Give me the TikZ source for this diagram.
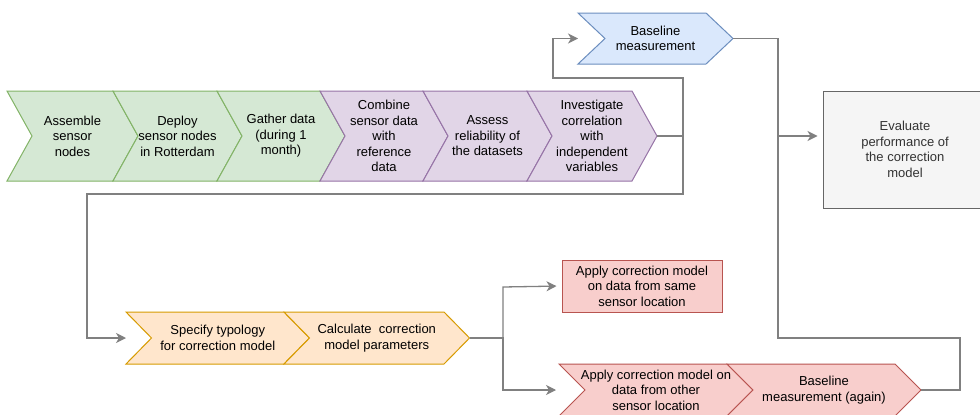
\documentclass[tikz,border=0pt]{standalone}
\usepackage{fontspec}
\setmainfont{Liberation Sans}
\usetikzlibrary{arrows.meta}
\definecolor{gfill}{HTML}{D5E8D4}\definecolor{gline}{HTML}{82B366}
\definecolor{pfill}{HTML}{E1D5E7}\definecolor{pline}{HTML}{9673A6}
\definecolor{bfill}{HTML}{DAE8FC}\definecolor{bline}{HTML}{6C8EBF}
\definecolor{ofill}{HTML}{FFE6CC}\definecolor{oline}{HTML}{D79B00}
\definecolor{rfill}{HTML}{F8CECC}\definecolor{rline}{HTML}{B85450}
\definecolor{kfill}{HTML}{F5F5F5}\definecolor{kline}{HTML}{666666}
\definecolor{ktext}{HTML}{333333}
\definecolor{cgray}{HTML}{808080}
\newcommand{\chev}[8]{%
  \draw[#2] (#3,#5) -- (#4,#5) -- ({#4+#7},{(#5+#6)/2}) -- (#4,#6) -- (#3,#6) -- ({#3+#7},{(#5+#6)/2}) -- cycle;
  \node[txt] (#1) at ({(#3+#4+#7)/2},{(#5+#6)/2}) {#8};
  \coordinate (#1-tip) at ({#4+#7},{(#5+#6)/2});
  \coordinate (#1-in) at (#3,{(#5+#6)/2});
}
\tikzset{
  txt/.style={align=center, inner sep=0pt, font=\fontsize{13}{15.5}\selectfont},
  chg/.style={draw=gline, fill=gfill, line width=1pt, line join=miter},
  chp/.style={draw=pline, fill=pfill, line width=1pt},
  chb/.style={draw=bline, fill=bfill, line width=1pt},
  cho/.style={draw=oline, fill=ofill, line width=1pt},
  chr/.style={draw=rline, fill=rfill, line width=1pt},
  conn/.style={draw=cgray, line width=1.3pt},
  arr/.style={conn, -{Stealth[length=10pt, width=10pt, inset=3pt]}},
}
\begin{document}
\begin{tikzpicture}[x=1pt, y=-1pt]
\path[use as bounding box] (0,0) rectangle (980,415);
\clip (0,0) rectangle (980,415);
\fill[white] (0,0) rectangle (980,415);
% top baseline
\chev{base}{chb}{578}{706}{13}{64}{27}{Baseline\\measurement}
% main row
\chev{assemble}{chg}{7}{113}{91}{181}{25}{Assemble\\sensor\\nodes}
\chev{deploy}{chg}{113}{217}{91}{181}{25}{Deploy\\sensor nodes\\in Rotterdam}
\chev{gather}{chg}{217}{320}{91}{181}{25}{Gather data\\(during 1\\month)}
\chev{combine}{chp}{320}{423}{91}{181}{25}{Combine\\sensor data\\with\\reference\\data}
\chev{assess}{chp}{423}{527}{91}{181}{25}{Assess\\reliability of\\the datasets}
\chev{inv}{chp}{527}{632}{91}{181}{25}{Investigate\\correlation\\with\\independent\\variables}
% evaluate
\node[draw=kline, fill=kfill, line width=1pt, minimum width=164pt, minimum height=117pt, text=ktext, txt] (eval) at (905,149.5) {Evaluate\\performance of\\the correction\\model};
% orange row
\chev{spec}{cho}{126}{284}{312}{364}{25.5}{Specify typology\\for correction model}
\chev{calc}{cho}{284}{444}{312}{364}{25.5}{Calculate\ \ correction\\model parameters}
% red
\node[draw=rline, fill=rfill, line width=1pt, minimum width=160pt, minimum height=52pt, txt] (same) at (642,286) {Apply correction model\\on data from same\\sensor location};
\chev{other}{chr}{559}{727}{364}{416}{26}{Apply correction model on\\data from other\\sensor location}
\chev{again}{chr}{727}{895}{364}{416}{26}{Baseline\\measurement (again)}
% connectors
\draw[arr] (inv-tip) -- (683,136) |- (553,78) |- (base-in);
\draw[arr] (inv-tip) -- (683,136) |- (87,194) |- (spec-in);
\draw[arr, shorten >=5pt] (base-tip) -| (778,136) -- (eval.west |- inv-tip);
\draw[conn] (again-tip) -| (960,338) -| (778,136);
\draw[arr, shorten >=5pt] (calc-tip) -| (503,287) -- (same.west);
\draw[arr, shorten >=3pt] (calc-tip) -| (503,390) -- (other-in);
\end{tikzpicture}
\end{document}
